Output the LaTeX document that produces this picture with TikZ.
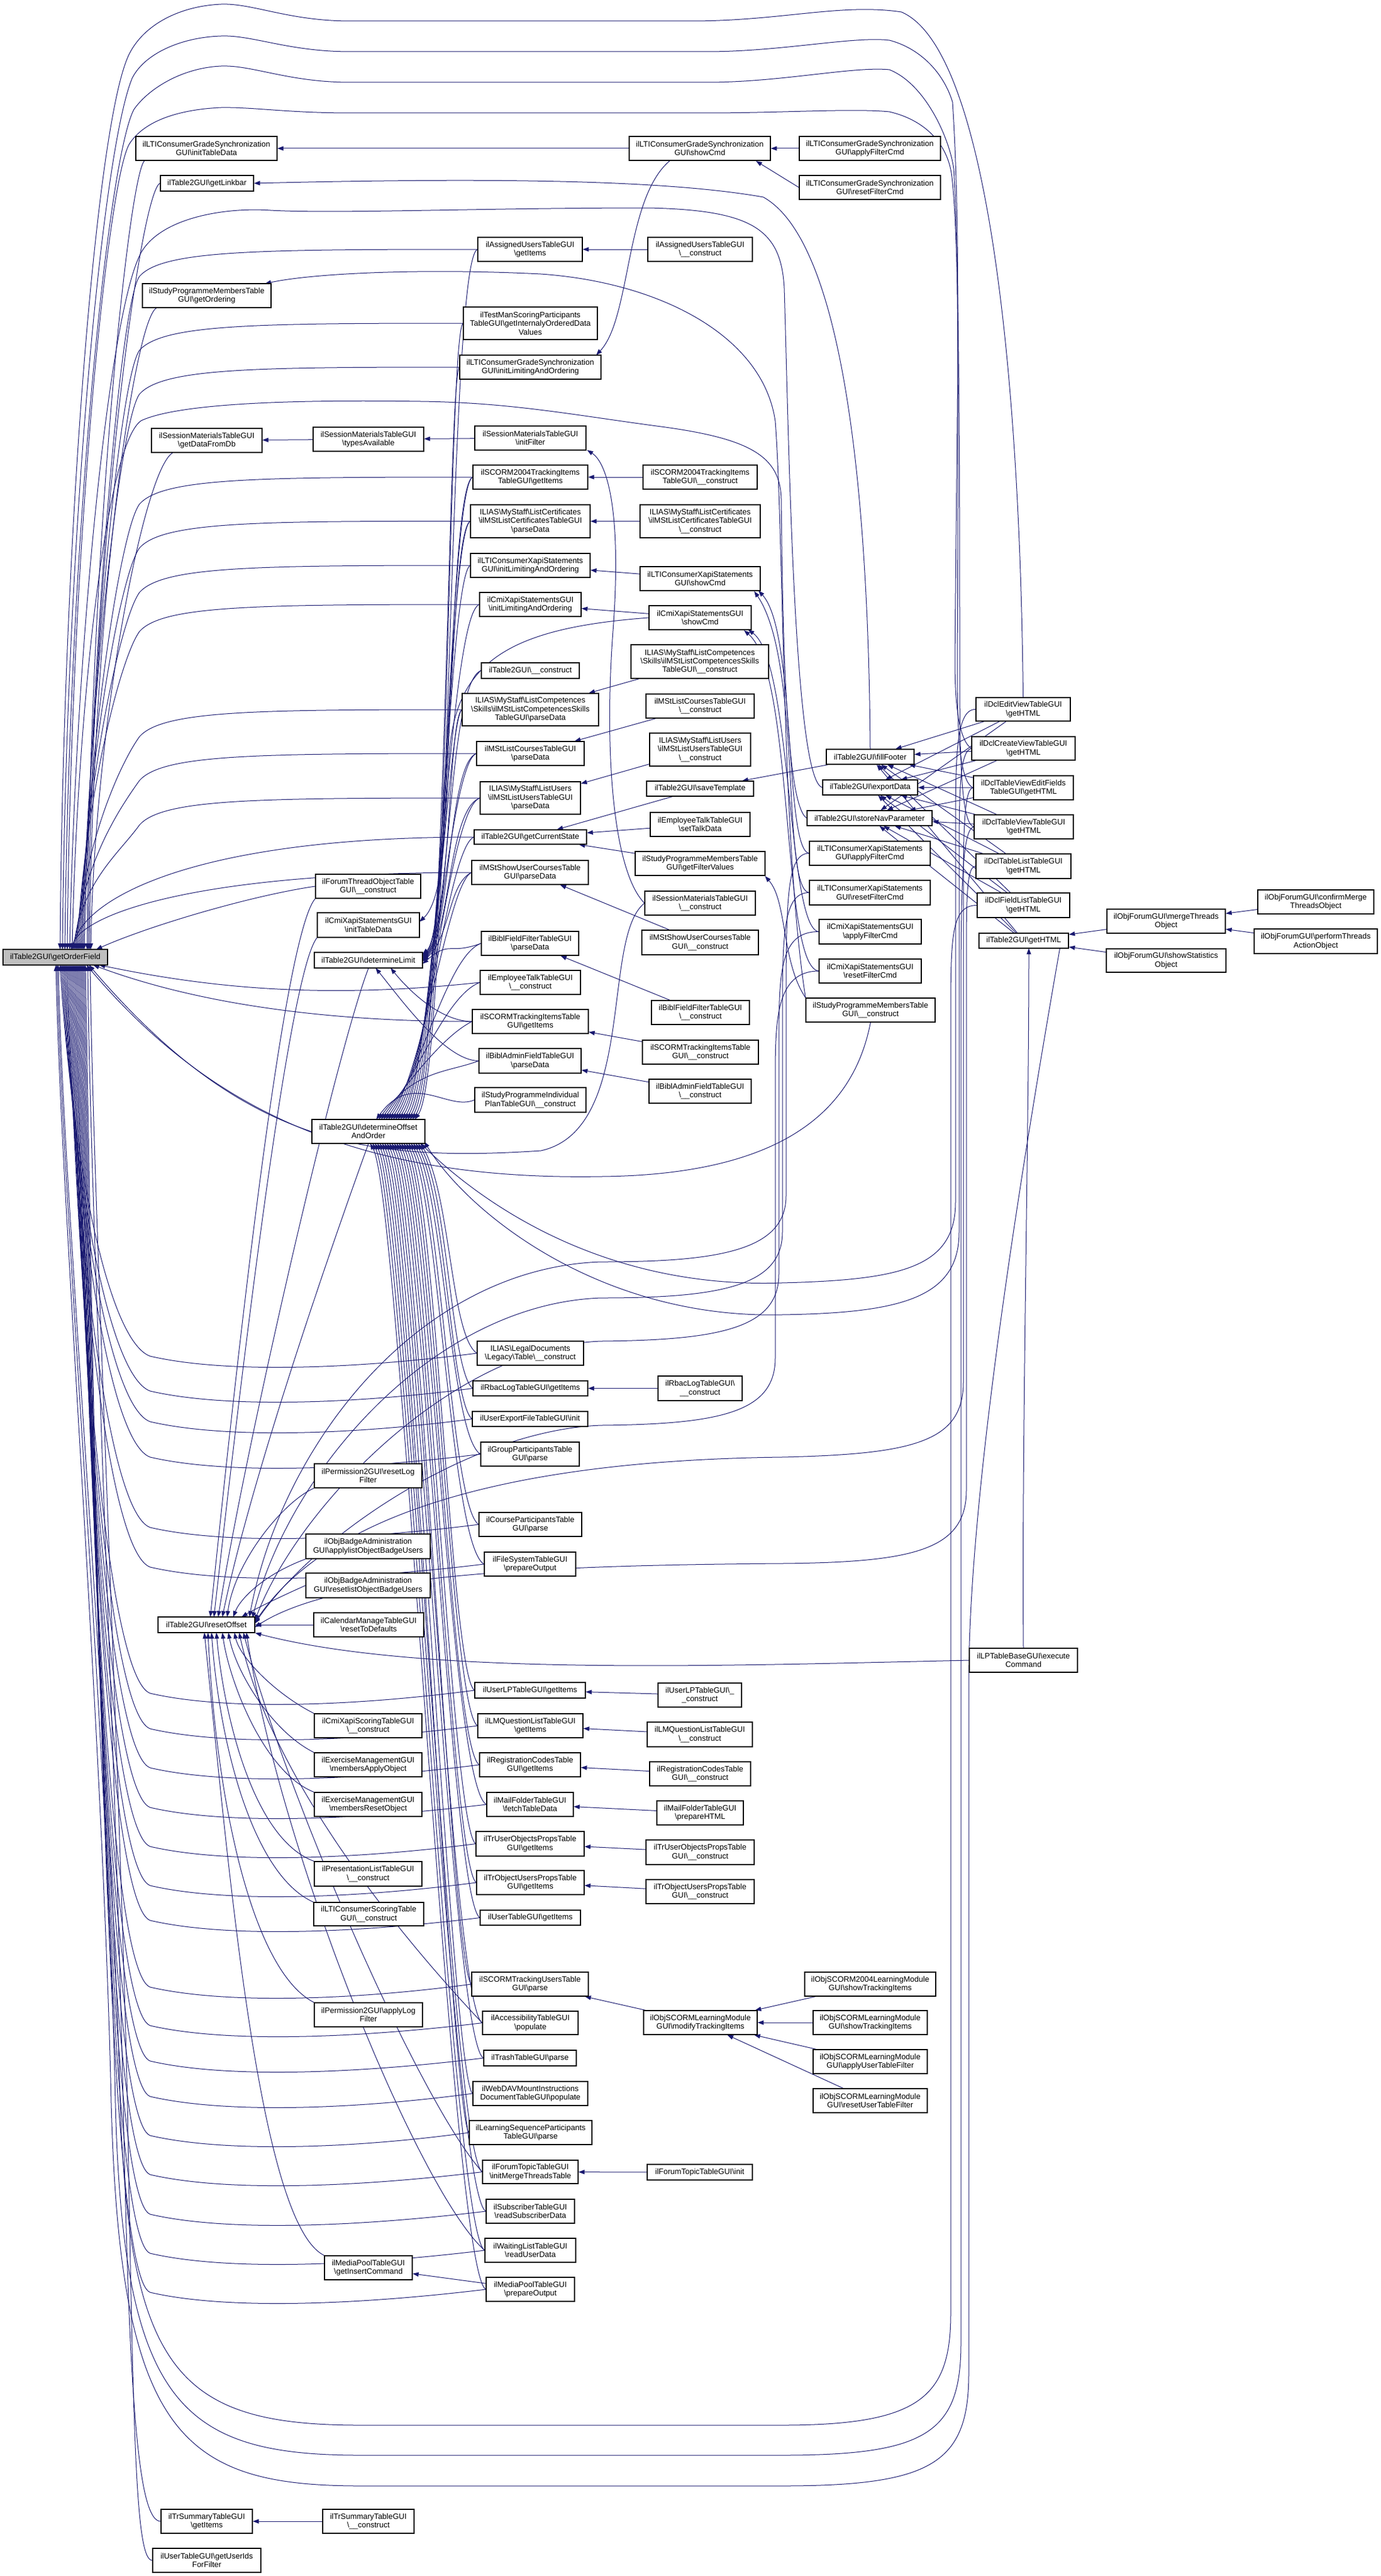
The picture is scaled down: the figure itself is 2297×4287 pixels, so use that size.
\documentclass[tikz,border=0pt]{standalone}
\usepackage{fontspec}
\setmainfont{Liberation Sans}
\usetikzlibrary{arrows.meta}
\definecolor{edgec}{HTML}{191970}
\definecolor{rootfill}{HTML}{BFBFBF}
\newcommand\BS{\textbackslash}
\pgfdeclarelayer{edgelayer}
\pgfsetlayers{edgelayer,main}
\tikzset{
 box/.style={draw=black,line width=0.6pt,fill=white,inner sep=0pt,align=center,font=\fontsize{6.5pt}{7.2pt}\selectfont},
 e/.style={draw=edgec,line width=0.5pt,-{Triangle[length=5pt,width=3.6pt]}},
}
\newcommand\Bx[6]{\node[box,minimum width={0.5pt*(#4-#2)},minimum height={0.5pt*(#5-#3)}] (#1) at ({(#2+#4)/2},{(#3+#5)/2}) {#6};}
\newcommand\eS[2]{\draw[e] (#1) -- (#2);}
\newcommand\eRU[3]{\draw[e] (#1.west) .. controls (420,#2) and (270,{#2+2}) .. (232,{#2+45}) .. controls (200,{#2+90}) and ({#3+15},{#2+0.55*(1580-#2)}) .. (#3,1580);}
\newcommand\eRUb[3]{\draw[e] (#1.west) .. controls (320,#2) and ({#3+20},{#2+0.55*(1580-#2)}) .. (#3,1580);}
\newcommand\eRL[3]{\draw[e] (#1.west) .. controls (600,{#2+25}) and (380,{#2+35}) .. (250,{#2+5}) .. controls (180,{#2-20}) and ({#3+20},{(#2+1606)/2}) .. (#3,1606);}
\newcommand\eDU[3]{\draw[e] (#1.west) .. controls (745,{#2+20}) and ({#3+60},1780) .. (#3,1863);}
\newcommand\eDD[3]{\draw[e] (#1.west) .. controls (750,{#2-30}) and ({#3+50},1990) .. (#3,1903);}
\newcommand\eLU[3]{\draw[e] (#1.west) .. controls (745,{#2+20}) and (750,{#3-40}) .. (703,#3);}
\newcommand\eLD[3]{\draw[e] (#1.west) .. controls (740,#2) and ({#3+40},1660) .. (#3,1611);}
\begin{document}
\begin{tikzpicture}[x=0.5pt,y=-0.5pt]
\useasboundingbox (0,0) rectangle (2297,4287);
% ---------- rank 0
\node[box,fill=rootfill,minimum width={0.5pt*174},minimum height={0.5pt*26}] (root) at (92,1593) {ilTable2GUI\BS getOrderField};
% ---------- rank 1
\Bx{ltiInit}{226}{227}{461}{267}{ilLTIConsumerGradeSynchronization\\GUI\BS initTableData}
\Bx{linkbar}{267}{292}{422}{318}{ilTable2GUI\BS getLinkbar}
\Bx{spmOrd}{237}{472}{451}{512}{ilStudyProgrammeMembersTable\\GUI\BS getOrdering}
\Bx{smDb}{252}{713}{436}{753}{ilSessionMaterialsTableGUI\\\BS getDataFromDb}
\Bx{reset}{263}{2691}{424}{2717}{ilTable2GUI\BS resetOffset}
\Bx{trSumItems}{268}{4176}{420}{4216}{ilTrSummaryTableGUI\\\BS getItems}
\Bx{userIds}{254}{4241}{434}{4281}{ilUserTableGUI\BS getUserIds\\ForFilter}
% ---------- rank 2
\Bx{smTypes}{521}{711}{705}{751}{ilSessionMaterialsTableGUI\\\BS typesAvailable}
\Bx{forumThread}{525}{1455}{700}{1495}{ilForumThreadObjectTable\\GUI\BS\_\_construct}
\Bx{cmiInit}{528}{1519}{698}{1560}{ilCmiXapiStatementsGUI\\\BS initTableData}
\Bx{detLimit}{523}{1585}{703}{1611}{ilTable2GUI\BS determineLimit}
\Bx{detOff}{519}{1863}{707}{1903}{ilTable2GUI\BS determineOffset\\AndOrder}
\Bx{permReset}{523}{2436}{702}{2476}{ilPermission2GUI\BS resetLog\\Filter}
\Bx{badgeApply}{509}{2553}{716}{2594}{ilObjBadgeAdministration\\GUI\BS applylistObjectBadgeUsers}
\Bx{badgeReset}{509}{2618}{716}{2659}{ilObjBadgeAdministration\\GUI\BS resetlistObjectBadgeUsers}
\Bx{calReset}{522}{2684}{705}{2724}{ilCalendarManageTableGUI\\\BS resetToDefaults}
\Bx{cmiScoring}{523}{2852}{702}{2892}{ilCmiXapiScoringTableGUI\\\BS\_\_construct}
\Bx{exApply}{523}{2917}{702}{2957}{ilExerciseManagementGUI\\\BS membersApplyObject}
\Bx{exReset}{523}{2983}{702}{3023}{ilExerciseManagementGUI\\\BS membersResetObject}
\Bx{presList}{523}{3098}{702}{3139}{ilPresentationListTableGUI\\\BS\_\_construct}
\Bx{ltiScoring}{522}{3166}{705}{3205}{ilLTIConsumerScoringTable\\GUI\BS\_\_construct}
\Bx{permApply}{523}{3333}{703}{3373}{ilPermission2GUI\BS applyLog\\Filter}
\Bx{mpInsert}{540}{3754}{686}{3794}{ilMediaPoolTableGUI\\\BS getInsertCommand}
\Bx{trSumCons}{537}{4176}{689}{4216}{ilTrSummaryTableGUI\\\BS\_\_construct}
% ---------- rank 3
\Bx{auItems}{795}{395}{969}{435}{ilAssignedUsersTableGUI\\\BS getItems}
\Bx{testMan}{771}{511}{994}{565}{ilTestManScoringParticipants\\TableGUI\BS getInternalyOrderedData\\Values}
\Bx{ltiLim}{765}{591}{1000}{631}{ilLTIConsumerGradeSynchronization\\GUI\BS initLimitingAndOrdering}
\Bx{smFilter}{790}{709}{975}{749}{ilSessionMaterialsTableGUI\\\BS initFilter}
\Bx{scorm04Items}{787}{774}{978}{814}{ilSCORM2004TrackingItems\\TableGUI\BS getItems}
\Bx{certParse}{783}{840}{982}{895}{ILIAS\BS MyStaff\BS ListCertificates\\\BS ilMStListCertificatesTableGUI\\\BS parseData}
\Bx{xapiLim}{783}{921}{982}{961}{ilLTIConsumerXapiStatements\\GUI\BS initLimitingAndOrdering}
\Bx{cmiLim}{798}{986}{967}{1026}{ilCmiXapiStatementsGUI\\\BS initLimitingAndOrdering}
\Bx{t2Cons}{801}{1103}{964}{1129}{ilTable2GUI\BS\_\_construct}
\Bx{skillsParse}{769}{1154}{996}{1208}{ILIAS\BS MyStaff\BS ListCompetences\\\BS Skills\BS ilMStListCompetencesSkills\\TableGUI\BS parseData}
\Bx{coursesParse}{793}{1234}{972}{1274}{ilMStListCoursesTableGUI\\\BS parseData}
\Bx{usersParse}{799}{1301}{966}{1355}{ILIAS\BS MyStaff\BS ListUsers\\\BS ilMStListUsersTableGUI\\\BS parseData}
\Bx{curState}{789}{1381}{976}{1405}{ilTable2GUI\BS getCurrentState}
\Bx{showUCParse}{785}{1432}{979}{1472}{ilMStShowUserCoursesTable\\GUI\BS parseData}
\Bx{biblFParse}{801}{1550}{963}{1590}{ilBiblFieldFilterTableGUI\\\BS parseData}
\Bx{etCons}{799}{1615}{966}{1655}{ilEmployeeTalkTableGUI\\\BS\_\_construct}
\Bx{scormItems}{786}{1680}{979}{1720}{ilSCORMTrackingItemsTable\\GUI\BS getItems}
\Bx{biblAParse}{797}{1745}{967}{1786}{ilBiblAdminFieldTableGUI\\\BS parseData}
\Bx{spIndiv}{790}{1810}{975}{1851}{ilStudyProgrammeIndividual\\PlanTableGUI\BS\_\_construct}
\Bx{legal}{794}{2232}{971}{2272}{ILIAS\BS LegalDocuments\\\BS Legacy\BS Table\BS\_\_construct}
\Bx{rbacItems}{787}{2298}{978}{2323}{ilRbacLogTableGUI\BS getItems}
\Bx{userExp}{786}{2349}{978}{2374}{ilUserExportFileTableGUI\BS init}
\Bx{grpParse}{800}{2400}{964}{2440}{ilGroupParticipantsTable\\GUI\BS parse}
\Bx{crsParse}{797}{2517}{968}{2557}{ilCourseParticipantsTable\\GUI\BS parse}
\Bx{fsPrep}{806}{2583}{958}{2623}{ilFileSystemTableGUI\\\BS prepareOutput}
\Bx{ulpItems}{790}{2800}{974}{2826}{ilUserLPTableGUI\BS getItems}
\Bx{lmqItems}{795}{2852}{970}{2892}{ilLMQuestionListTableGUI\\\BS getItems}
\Bx{regItems}{798}{2917}{966}{2957}{ilRegistrationCodesTable\\GUI\BS getItems}
\Bx{mailFetch}{810}{2983}{954}{3023}{ilMailFolderTableGUI\\\BS fetchTableData}
\Bx{truoItems}{792}{3048}{972}{3089}{ilTrUserObjectsPropsTable\\GUI\BS getItems}
\Bx{trouItems}{793}{3113}{972}{3153}{ilTrObjectUsersPropsTable\\GUI\BS getItems}
\Bx{utItems}{799}{3179}{966}{3204}{ilUserTableGUI\BS getItems}
\Bx{scormUsers}{785}{3282}{979}{3322}{ilSCORMTrackingUsersTable\\GUI\BS parse}
\Bx{access}{803}{3347}{962}{3386}{ilAccessibilityTableGUI\\\BS populate}
\Bx{trash}{805}{3412}{959}{3438}{ilTrashTableGUI\BS parse}
\Bx{webdav}{787}{3464}{978}{3504}{ilWebDAVMountInstructions\\DocumentTableGUI\BS populate}
\Bx{lsParse}{781}{3529}{985}{3569}{ilLearningSequenceParticipants\\TableGUI\BS parse}
\Bx{ftMerge}{803}{3595}{962}{3634}{ilForumTopicTableGUI\\\BS initMergeThreadsTable}
\Bx{subRead}{809}{3660}{956}{3700}{ilSubscriberTableGUI\\\BS readSubscriberData}
\Bx{wlRead}{807}{3725}{958}{3765}{ilWaitingListTableGUI\\\BS readUserData}
\Bx{mpPrep}{809}{3790}{956}{3830}{ilMediaPoolTableGUI\\\BS prepareOutput}
% ---------- rank 4
\Bx{ltiShow}{1047}{227}{1282}{267}{ilLTIConsumerGradeSynchronization\\GUI\BS showCmd}
\Bx{auCons}{1078}{395}{1252}{435}{ilAssignedUsersTableGUI\\\BS\_\_construct}
\Bx{scorm04Cons}{1070}{774}{1260}{814}{ilSCORM2004TrackingItems\\TableGUI\BS\_\_construct}
\Bx{certCons}{1065}{840}{1265}{895}{ILIAS\BS MyStaff\BS ListCertificates\\\BS ilMStListCertificatesTableGUI\\\BS\_\_construct}
\Bx{xapiShow}{1065}{943}{1265}{983}{ilLTIConsumerXapiStatements\\GUI\BS showCmd}
\Bx{cmiShow}{1080}{1008}{1250}{1048}{ilCmiXapiStatementsGUI\\\BS showCmd}
\Bx{skillsCons}{1050}{1073}{1279}{1129}{ILIAS\BS MyStaff\BS ListCompetences\\\BS Skills\BS ilMStListCompetencesSkills\\TableGUI\BS\_\_construct}
\Bx{coursesCons}{1075}{1155}{1255}{1195}{ilMStListCoursesTableGUI\\\BS\_\_construct}
\Bx{usersCons}{1081}{1220}{1249}{1275}{ILIAS\BS MyStaff\BS ListUsers\\\BS ilMStListUsersTableGUI\\\BS\_\_construct}
\Bx{saveTpl}{1076}{1300}{1254}{1325}{ilTable2GUI\BS saveTemplate}
\Bx{etTalk}{1082}{1352}{1248}{1392}{ilEmployeeTalkTableGUI\\\BS setTalkData}
\Bx{spmFilter}{1057}{1417}{1273}{1457}{ilStudyProgrammeMembersTable\\GUI\BS getFilterValues}
\Bx{smCons}{1073}{1483}{1257}{1523}{ilSessionMaterialsTableGUI\\\BS\_\_construct}
\Bx{showUCCons}{1068}{1548}{1262}{1589}{ilMStShowUserCoursesTable\\GUI\BS\_\_construct}
\Bx{biblFCons}{1084}{1665}{1247}{1705}{ilBiblFieldFilterTableGUI\\\BS\_\_construct}
\Bx{scormCons}{1069}{1731}{1262}{1771}{ilSCORMTrackingItemsTable\\GUI\BS\_\_construct}
\Bx{biblACons}{1080}{1796}{1250}{1836}{ilBiblAdminFieldTableGUI\\\BS\_\_construct}
\Bx{rbacCons}{1095}{2290}{1235}{2331}{ilRbacLogTableGUI\BS\\\_\_construct}
\Bx{ulpCons}{1095}{2801}{1234}{2841}{ilUserLPTableGUI\BS\_\\\_construct}
\Bx{lmqCons}{1077}{2866}{1252}{2907}{ilLMQuestionListTableGUI\\\BS\_\_construct}
\Bx{regCons}{1081}{2932}{1249}{2972}{ilRegistrationCodesTable\\GUI\BS\_\_construct}
\Bx{mailPrep}{1093}{2997}{1237}{3037}{ilMailFolderTableGUI\\\BS prepareHTML}
\Bx{truoCons}{1075}{3062}{1255}{3103}{ilTrUserObjectsPropsTable\\GUI\BS\_\_construct}
\Bx{trouCons}{1075}{3128}{1255}{3168}{ilTrObjectUsersPropsTable\\GUI\BS\_\_construct}
\Bx{modTrack}{1071}{3346}{1260}{3386}{ilObjSCORMLearningModule\\GUI\BS modifyTrackingItems}
\Bx{ftInit}{1077}{3602}{1252}{3628}{ilForumTopicTableGUI\BS init}
% ---------- rank 5
\Bx{ltiApply}{1330}{227}{1565}{267}{ilLTIConsumerGradeSynchronization\\GUI\BS applyFilterCmd}
\Bx{ltiResetF}{1330}{292}{1565}{332}{ilLTIConsumerGradeSynchronization\\GUI\BS resetFilterCmd}
\Bx{fillFooter}{1375}{1247}{1521}{1272}{ilTable2GUI\BS fillFooter}
\Bx{exportData}{1369}{1298}{1527}{1323}{ilTable2GUI\BS exportData}
\Bx{storeNav}{1343}{1349}{1551}{1374}{ilTable2GUI\BS storeNavParameter}
\Bx{xapiApply}{1347}{1400}{1548}{1440}{ilLTIConsumerXapiStatements\\GUI\BS applyFilterCmd}
\Bx{xapiReset}{1347}{1465}{1548}{1506}{ilLTIConsumerXapiStatements\\GUI\BS resetFilterCmd}
\Bx{cmiApply}{1363}{1530}{1533}{1571}{ilCmiXapiStatementsGUI\\\BS applyFilterCmd}
\Bx{cmiReset}{1363}{1596}{1533}{1636}{ilCmiXapiStatementsGUI\\\BS resetFilterCmd}
\Bx{spmCons}{1341}{1661}{1556}{1701}{ilStudyProgrammeMembersTable\\GUI\BS\_\_construct}
\Bx{scorm04Show}{1339}{3282}{1557}{3322}{ilObjSCORM2004LearningModule\\GUI\BS showTrackingItems}
\Bx{scormShow}{1353}{3346}{1543}{3386}{ilObjSCORMLearningModule\\GUI\BS showTrackingItems}
\Bx{scormApply}{1353}{3411}{1543}{3451}{ilObjSCORMLearningModule\\GUI\BS applyUserTableFilter}
\Bx{scormReset}{1353}{3476}{1543}{3516}{ilObjSCORMLearningModule\\GUI\BS resetUserTableFilter}
% ---------- rank 6
\Bx{dclEdit}{1624}{1161}{1781}{1200}{ilDclEditViewTableGUI\\\BS getHTML}
\Bx{dclCreate}{1617}{1226}{1789}{1265}{ilDclCreateViewTableGUI\\\BS getHTML}
\Bx{dclTVEF}{1620}{1291}{1786}{1331}{ilDclTableViewEditFields\\TableGUI\BS getHTML}
\Bx{dclTV}{1621}{1356}{1786}{1396}{ilDclTableViewTableGUI\\\BS getHTML}
\Bx{dclTL}{1624}{1421}{1782}{1462}{ilDclTableListTableGUI\\\BS getHTML}
\Bx{dclFL}{1626}{1486}{1780}{1527}{ilDclFieldListTableGUI\\\BS getHTML}
\Bx{getHTML}{1629}{1553}{1778}{1578}{ilTable2GUI\BS getHTML}
\Bx{lpExec}{1613}{2743}{1793}{2783}{ilLPTableBaseGUI\BS execute\\Command}
% ---------- rank 7/8
\Bx{fMerge}{1842}{1513}{2039}{1553}{ilObjForumGUI\BS mergeThreads\\Object}
\Bx{fStats}{1841}{1579}{2040}{1618}{ilObjForumGUI\BS showStatistics\\Object}
\Bx{fConfirm}{2093}{1481}{2286}{1521}{ilObjForumGUI\BS confirmMerge\\ThreadsObject}
\Bx{fPerform}{2087}{1546}{2292}{1587}{ilObjForumGUI\BS performThreads\\ActionObject}

\begin{pgfonlayer}{edgelayer}
\fill[white] (0,0) rectangle (2297,4287);
% ---- short edges between neighbouring columns
\eS{ltiShow}{ltiInit}
\eS{ltiApply}{ltiShow}
\draw[e] (ltiResetF.west) -- (1258,268);
\eS{smTypes}{smDb}
\eS{smFilter}{smTypes}
\eS{auCons}{auItems}
\eS{scorm04Cons}{scorm04Items}
\eS{certCons}{certParse}
\eS{xapiShow}{xapiLim}
\eS{cmiShow}{cmiLim}
\eS{skillsCons}{skillsParse}
\eS{coursesCons}{coursesParse}
\eS{usersCons}{usersParse}
\eS{saveTpl}{curState}
\eS{etTalk}{curState}
\eS{spmFilter}{curState}
\eS{showUCCons}{showUCParse}
\eS{biblFCons}{biblFParse}
\eS{scormCons}{scormItems}
\eS{biblACons}{biblAParse}
\eS{rbacCons}{rbacItems}
\eS{ulpCons}{ulpItems}
\eS{lmqCons}{lmqItems}
\eS{regCons}{regItems}
\eS{mailPrep}{mailFetch}
\eS{truoCons}{truoItems}
\eS{trouCons}{trouItems}
\eS{modTrack}{scormUsers}
\eS{ftInit}{ftMerge}
\eS{mpPrep}{mpInsert}
\eS{trSumCons}{trSumItems}
\eS{calReset}{reset}
\eS{fillFooter}{saveTpl}
\eS{scorm04Show}{modTrack}
\eS{scormShow}{modTrack}
\eS{scormApply}{modTrack}
\eS{scormReset}{modTrack}
\eS{fMerge}{getHTML}
\eS{fStats}{getHTML}
\eS{fConfirm}{fMerge}
\eS{fPerform}{fMerge}
\foreach \d in {dclEdit,dclCreate,dclTVEF,dclTV,dclTL,dclFL,getHTML}{
  \eS{\d}{fillFooter}
  \eS{\d}{exportData}
  \eS{\d}{storeNav}
}
% ---- curved edges on the right
\draw[e] ([xshift=-25pt]ltiShow.south) .. controls (1040,330) and (1050,530) .. (992,591);
\draw[e] (fillFooter.north) .. controls (1445,800) and (1400,400) .. (1270,328) .. controls (1100,298) and (800,296) .. (linkbar.east);
\draw[e] (spmCons.north west) .. controls (1300,1400) and (1305,900) .. (1290,701) .. controls (1270,560) and (1100,470) .. (900,456) .. controls (700,446) and (520,455) .. (441,472);
\draw[e] (smCons.west) .. controls (1020,1450) and (1005,1250) .. (1020,1050) .. controls (1035,850) and (1010,770) .. (977,749);
\draw[e] (xapiApply.west) .. controls (1305,1415) and (1325,1050) .. (1262,983);
\draw[e] (xapiReset.west) .. controls (1300,1480) and (1335,1100) .. (1255,984);
\draw[e] (cmiApply.west) .. controls (1310,1545) and (1318,1100) .. (1245,1048);
\draw[e] (cmiReset.west) .. controls (1300,1610) and (1322,1120) .. (1238,1049);
\draw[e] (spmCons.north west) .. controls (1300,1600) and (1310,1500) .. (1273,1458);
\draw[e] (cmiShow.west) .. controls (850,1045) and (760,1100) .. (748,1250) .. controls (740,1400) and (735,1500) .. (698,1534);
\draw[e] (lpExec.north) .. controls (1700,2400) and (1712,1900) .. (1712,1578);
\draw[e] (lpExec.west) .. controls (1200,2772) and (700,2790) .. (reset.south east);
% ---- long edges to getOrderField over the top
\draw[e] (dclEdit.north) .. controls (1697,600) and (1640,80) .. (1500,20) .. controls (1400,5) and (1300,35) .. (1150,35) -- (583,35) .. controls (480,35) and (420,5) .. (368,7) .. controls (300,10) and (240,40) .. (215,90) .. controls (160,200) and (105,900) .. (100,1580);
\draw[e] (dclCreate.west) .. controls (1592,1230) and (1589,1150) .. (1589,1100) .. controls (1592,700) and (1600,400) .. (1585,170) .. controls (1570,120) and (1530,80) .. (1480,67) .. controls (1420,60) and (1300,86) .. (1176,86) -- (583,86) .. controls (480,86) and (420,58) .. (368,60) .. controls (300,62) and (240,90) .. (220,130) .. controls (170,250) and (110,900) .. (104,1580);
\draw[e] (dclTVEF.west) .. controls (1594,1300) and (1593,1200) .. (1593,1100) .. controls (1595,700) and (1595,400) .. (1587,281) .. controls (1580,230) and (1540,140) .. (1480,116) .. controls (1420,110) and (1300,137) .. (1176,137) -- (583,137) .. controls (480,137) and (420,108) .. (368,110) .. controls (300,113) and (245,150) .. (223,182) .. controls (180,260) and (115,900) .. (108,1580);
\draw[e] (dclTV.west) .. controls (1598,1370) and (1597,1250) .. (1597,1100) .. controls (1597,700) and (1596,400) .. (1584,295) .. controls (1578,240) and (1540,200) .. (1480,186) .. controls (1420,180) and (1300,188) .. (1176,188) -- (583,188) .. controls (480,188) and (420,178) .. (368,179) .. controls (300,182) and (240,200) .. (215,240) .. controls (180,300) and (118,900) .. (112,1580);
\draw[e] (exportData.west) .. controls (1320,1300) and (1312,700) .. (1305,480) .. controls (1300,380) and (1250,350) .. (1080,346) .. controls (800,346) and (560,356) .. (450,350) .. controls (380,345) and (270,360) .. (235,420) .. controls (180,520) and (125,1100) .. (116,1580);
\draw[e] (storeNav.west) .. controls (1305,1340) and (1302,1000) .. (1300,830) .. controls (1298,760) and (1250,730) .. (1100,710) .. controls (950,690) and (850,670) .. (700,668) .. controls (500,665) and (300,670) .. (235,700) .. controls (175,740) and (128,1200) .. (120,1580);
% ---- rank-1 callers above
\draw[e] ([xshift=7.5pt]ltiInit.south west) .. controls (215,290) and (150,900) .. (145,1580);
\draw[e] (linkbar.west) .. controls (235,315) and (152,900) .. (147,1580);
\draw[e] ([xshift=12pt]spmOrd.south west) .. controls (225,530) and (154,1000) .. (149,1580);
\draw[e] ([xshift=18pt]smDb.south west) .. controls (240,780) and (158,1200) .. (151,1580);
% ---- rank-3 callers above the root
\eRU{auItems}{415}{140}
\eRU{testMan}{538}{138}
\eRU{ltiLim}{611}{136}
\eRU{scorm04Items}{794}{134}
\eRU{certParse}{867}{132}
\eRU{xapiLim}{941}{130}
\eRU{cmiLim}{1006}{128}
\eRU{skillsParse}{1181}{126}
\eRU{coursesParse}{1254}{124}
\eRU{usersParse}{1328}{122}
\eRUb{curState}{1393}{120}
\eRUb{showUCParse}{1452}{118}
\draw[e] (forumThread.west) .. controls (420,1490) and (250,1540) .. (160,1580);
\draw[e] (etCons.west) .. controls (520,1665) and (330,1640) .. (165,1606);
\draw[e] (scormItems.west) .. controls (500,1700) and (300,1660) .. (155,1606);
\draw[e] (smCons.west) .. controls (1000,1560) and (1060,1880) .. (900,1915) .. controls (600,1935) and (400,1900) .. (148,1606);
\draw[e] (spmCons.south) .. controls (1420,1850) and (1300,1955) .. (1000,1958) .. controls (600,1965) and (350,1850) .. (144,1606);
% ---- determineLimit / determineOffsetAndOrder from above
\eDU{auItems}{415}{690}
\eDU{testMan}{538}{686}
\eDU{ltiLim}{611}{682}
\eDU{scorm04Items}{794}{678}
\eDU{certParse}{867}{674}
\eDU{xapiLim}{941}{670}
\eDU{cmiLim}{1006}{666}
\eDU{skillsParse}{1181}{662}
\eDU{coursesParse}{1254}{658}
\eDU{usersParse}{1328}{654}
\eDU{curState}{1393}{650}
\eDU{showUCParse}{1452}{646}
\eDU{biblFParse}{1570}{642}
\eDU{etCons}{1635}{638}
\eDU{scormItems}{1700}{634}
\eDU{biblAParse}{1765}{630}
\eDU{spIndiv}{1830}{626}
\eLU{scorm04Items}{794}{1588}
\eLU{certParse}{867}{1590}
\eLU{t2Cons}{1116}{1592}
\eLU{skillsParse}{1181}{1594}
\eLU{coursesParse}{1254}{1596}
\eLU{usersParse}{1328}{1598}
\eLU{showUCParse}{1452}{1600}
\eLU{biblFParse}{1570}{1604}
\eLD{scormItems}{1700}{650}
\eLD{biblAParse}{1765}{625}
% ---- resetOffset callers
\draw[e] (forumThread.south west) .. controls (470,1560) and (390,2300) .. (350,2691);
\draw[e] (cmiInit.south west) .. controls (480,1620) and (400,2300) .. (356,2691);
\draw[e] (detLimit.south) .. controls (560,1750) and (410,2400) .. (363,2691);
\draw[e] (detOff.south) .. controls (560,2050) and (420,2450) .. (370,2691);
\draw[e] (permReset.south west) .. controls (470,2500) and (390,2600) .. (378,2691);
\draw[e] (badgeApply.south west) .. controls (440,2620) and (400,2660) .. (388,2691);
\draw[e] (badgeReset.west) .. controls (460,2660) and (420,2680) .. (402,2691);
\draw[e] (cmiScoring.north west) .. controls (460,2820) and (400,2760) .. (390,2717);
\draw[e] (exApply.north west) .. controls (450,2880) and (392,2780) .. (380,2717);
\draw[e] (exReset.north west) .. controls (440,2950) and (382,2800) .. (370,2717);
\draw[e] (presList.north west) .. controls (420,3060) and (372,2850) .. (360,2717);
\draw[e] (ltiScoring.north west) .. controls (420,3120) and (365,2900) .. (352,2717);
\draw[e] (permApply.north west) .. controls (420,3280) and (360,3000) .. (346,2717);
\draw[e] (mpInsert.north west) .. controls (430,3700) and (380,3100) .. (340,2717);
\draw[e] (access.west) .. controls (740,3300) and (460,3000) .. (398,2717);
\draw[e] (ftMerge.west) .. controls (700,3500) and (480,3000) .. (405,2717);
\draw[e] (wlRead.west) .. controls (700,3650) and (470,3100) .. (410,2717);
\draw[e] (xapiApply.west) .. controls (1308,1420) and (1308,1500) .. (1308,1700) -- (1308,1990) .. controls (1308,2080) and (1200,2100) .. (1000,2100) .. controls (700,2110) and (470,2400) .. (415,2691);
\draw[e] (xapiReset.west) .. controls (1302,1485) and (1302,1560) .. (1302,1700) -- (1302,2050) .. controls (1302,2140) and (1200,2160) .. (1000,2160) .. controls (720,2170) and (480,2450) .. (420,2693);
\draw[e] (cmiApply.west) .. controls (1296,1550) and (1296,1620) .. (1296,1750) -- (1296,2120) .. controls (1296,2210) and (1200,2230) .. (1000,2232) .. controls (760,2240) and (500,2500) .. (424,2697);
\draw[e] (cmiReset.west) .. controls (1290,1616) and (1290,1700) .. (1290,1800) -- (1290,2260) .. controls (1290,2350) and (1200,2370) .. (1000,2372) .. controls (780,2380) and (520,2560) .. (424,2702);
\draw[e] (dclEdit.west) .. controls (1590,1180) and (1590,1260) .. (1590,1400) -- (1590,2000) .. controls (1590,2110) and (1500,2130) .. (1300,2135) .. controls (1000,2145) and (800,2000) .. (700,1903);
\draw[e] (dclCreate.west) .. controls (1596,1250) and (1596,1320) .. (1596,1450) -- (1596,2050) .. controls (1596,2160) and (1500,2185) .. (1300,2188) .. controls (1000,2195) and (780,2020) .. (706,1900);
\draw[e] (dclTVEF.west) .. controls (1603,1311) and (1603,1400) .. (1603,1500) -- (1603,2300) .. controls (1603,2400) and (1520,2420) .. (1300,2425) .. controls (900,2430) and (560,2500) .. (424,2700);
\draw[e] (dclTL.west) .. controls (1608,1441) and (1608,1500) .. (1608,1600) -- (1608,2480) .. controls (1608,2580) and (1520,2600) .. (1300,2602) .. controls (900,2605) and (560,2620) .. (424,2708);
% ---- long edges to getOrderField around the bottom
\draw[e] (dclFL.west) .. controls (1582,1507) and (1582,1560) .. (1582,1700) -- (1582,3850) .. controls (1582,3990) and (1530,4036) .. (1300,4036) -- (600,4036) .. controls (300,4036) and (215,3950) .. (200,3500) .. controls (185,2900) and (105,2000) .. (97,1606);
\draw[e] (dclTV.west) .. controls (1599,1380) and (1599,1500) .. (1599,1700) -- (1599,3900) .. controls (1599,4050) and (1540,4086) .. (1300,4086) -- (600,4086) .. controls (300,4086) and (205,4000) .. (192,3500) .. controls (180,2900) and (103,2000) .. (95,1606);
\draw[e] ([xshift=30pt]getHTML.south) .. controls (1690,2000) and (1612,2500) .. (1612,2800) -- (1612,3950) .. controls (1612,4100) and (1550,4137) .. (1300,4137) -- (600,4137) .. controls (300,4137) and (200,4050) .. (185,3500) .. controls (172,2900) and (101,2000) .. (93,1606);
\draw[e] (trSumItems.west) .. controls (230,4196) and (215,4000) .. (205,3500) .. controls (192,2900) and (150,2000) .. (146,1606);
\draw[e] (userIds.west) .. controls (225,4261) and (222,4050) .. (212,3500) .. controls (198,2900) and (155,2000) .. (150,1606);
% ---- lower rank-3 callers of getOrderField
\eRL{legal}{2252}{100}
\eRL{rbacItems}{2310}{102}
\eRL{userExp}{2361}{104}
\eRL{grpParse}{2420}{106}
\eRL{crsParse}{2537}{108}
\eRL{fsPrep}{2603}{110}
\eRL{ulpItems}{2813}{112}
\eRL{lmqItems}{2872}{114}
\eRL{regItems}{2937}{116}
\eRL{mailFetch}{3003}{118}
\eRL{truoItems}{3068}{120}
\eRL{trouItems}{3133}{122}
\eRL{utItems}{3191}{124}
\eRL{scormUsers}{3302}{126}
\eRL{access}{3366}{128}
\eRL{trash}{3425}{130}
\eRL{webdav}{3484}{132}
\eRL{lsParse}{3549}{134}
\eRL{ftMerge}{3614}{136}
\eRL{subRead}{3680}{138}
\eRL{wlRead}{3745}{140}
\eRL{mpPrep}{3810}{142}
% ---- lower rank-3 callers of determineOffsetAndOrder
\eDD{legal}{2252}{700}
\eDD{rbacItems}{2310}{696}
\eDD{userExp}{2361}{692}
\eDD{grpParse}{2420}{688}
\eDD{crsParse}{2537}{684}
\eDD{fsPrep}{2603}{680}
\eDD{ulpItems}{2813}{676}
\eDD{lmqItems}{2872}{672}
\eDD{regItems}{2937}{668}
\eDD{mailFetch}{3003}{664}
\eDD{truoItems}{3068}{660}
\eDD{trouItems}{3133}{656}
\eDD{utItems}{3191}{652}
\eDD{scormUsers}{3302}{648}
\eDD{access}{3366}{644}
\eDD{trash}{3425}{640}
\eDD{webdav}{3484}{636}
\eDD{lsParse}{3549}{632}
\eDD{ftMerge}{3614}{628}
\eDD{subRead}{3680}{624}
\eDD{wlRead}{3745}{620}
\eDD{mpPrep}{3810}{616}
\end{pgfonlayer}
\end{tikzpicture}
\end{document}
